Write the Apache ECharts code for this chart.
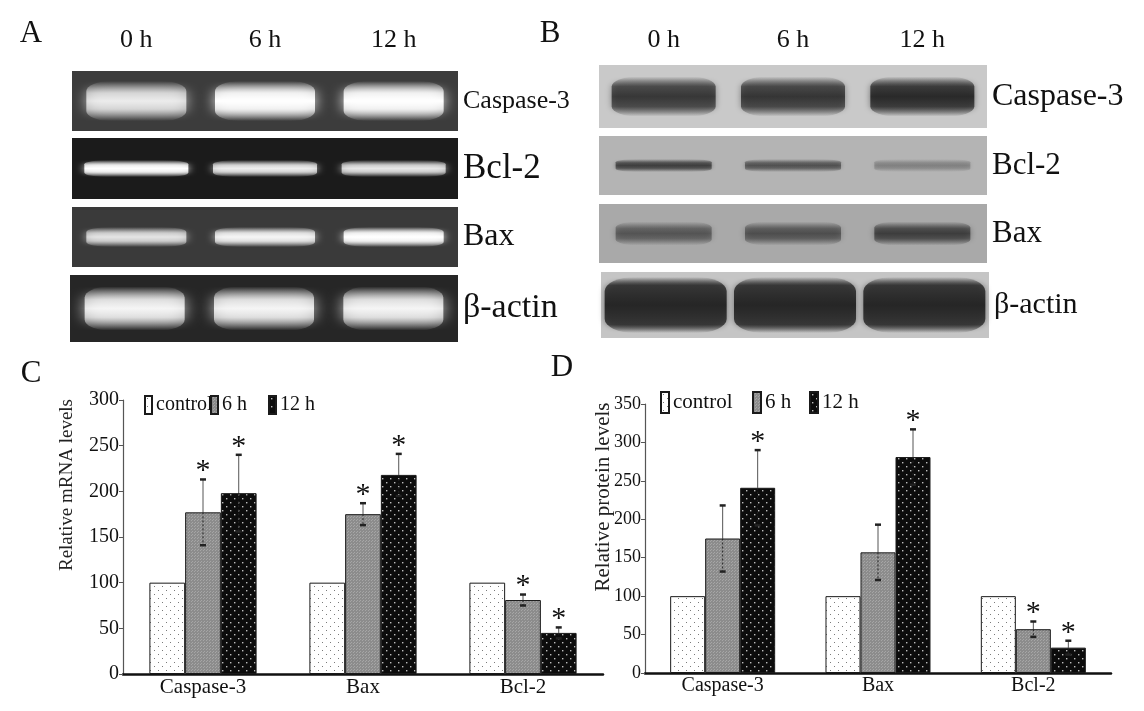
<!DOCTYPE html>
<html>
<head>
<meta charset="utf-8">
<title>Caspase-3, Bcl-2 and Bax expression</title>
<script src="https://cdn.jsdelivr.net/npm/echarts@6/dist/echarts.min.js"></script>
<style>
  html, body { margin: 0; padding: 0; background: #fff; }
  #main { width: 1144px; height: 711px; }
</style>
</head>
<body>
<div id="main"></div>
<script>
const serif = '"Liberation Serif", "Times New Roman", serif'

// blots: lanes and rows
const lanes = ['0 h', '6 h', '12 h']
const blotRows = ['Caspase-3', 'Bcl-2', 'Bax', 'β-actin']
// band strength (0..1)
const gelCaspase3 = [0.75, 1, 1]
const gelBcl2 = [1, 0.8, 0.75]
const gelBax = [0.7, 0.85, 1]
const gelActin = [0.85, 0.85, 0.85]
const wbCaspase3 = [0.8, 0.82, 0.95]
const wbBcl2 = [0.7, 0.55, 0.25]
const wbBax = [0.5, 0.55, 0.7]
const wbActin = [1, 1, 1]

// bar charts
const genes = ['Caspase-3', 'Bax', 'Bcl-2']
const groups = ['control', '6 h', '12 h']
const mrnaControl = [100, 100, 100]
const mrna6h = [177, 175, 81]
const mrna12h = [198, 218, 45]
const mrnaErr6h = [36, 12, 6]
const mrnaErr12h = [42, 23, 6]
const mrnaSig6h = [1, 1, 1]
const mrnaSig12h = [1, 1, 1]
const proteinControl = [100, 100, 100]
const protein6h = [175, 157, 57]
const protein12h = [241, 281, 33]
const proteinErr6h = [43, 36, 10]
const proteinErr12h = [49, 36, 9]
const proteinSig6h = [0, 0, 1]
const proteinSig12h = [1, 1, 1]
const mrnaMax = 300
const proteinMax = 350
const tickStep = 50

// fill patterns for the bars
function makePattern(size, bg, dot, dots, r) {
  const c = document.createElement('canvas')
  c.width = size
  c.height = size
  const g = c.getContext('2d')
  g.fillStyle = bg
  g.fillRect(0, 0, size, size)
  g.fillStyle = dot
  dots.forEach(p => g.fillRect(p[0], p[1], r, r))
  return { image: c, repeat: 'repeat' }
}
const patControl = makePattern(8, '#ffffff', '#7a7a7a', [[2, 2], [6, 6]], 1)
const pat6h = makePattern(3, '#8c8c8c', '#a6a6a6', [[0, 0], [2, 1]], 1)
const pat12h = makePattern(8, '#0c0c0c', '#bdbdbd', [[2, 2], [6, 6]], 1.4)
const patterns = [patControl, pat6h, pat12h]

// soft band: fades out at top and bottom
function bandFill(rgb, core) {
  return {
    type: 'linear', x: 0, y: 0, x2: 0, y2: 1,
    colorStops: [
      { offset: 0, color: 'rgba(' + rgb + ',0)' },
      { offset: 0.5 - core, color: 'rgba(' + rgb + ',0.8)' },
      { offset: 0.5, color: 'rgba(' + rgb + ',1)' },
      { offset: 0.5 + core, color: 'rgba(' + rgb + ',0.8)' },
      { offset: 1, color: 'rgba(' + rgb + ',0)' }
    ]
  }
}

const option = {
  backgroundColor: '#fff',
  animation: false,
  textStyle: { fontFamily: serif },
  grid: [],
  xAxis: [],
  yAxis: [],
  series: [],
  legend: [],
  graphic: []
}

// --- panels A and B ---
const blotPanels = [
  {
    data: [gelCaspase3, gelBcl2, gelBax, gelActin],
    band: '255,255,255', glow: 'rgba(255,255,255,0.8)', labelMargin: 18,
    strips: [
      { left: 72, top: 71, width: 386, height: 60, bg: '#3c3c3c', size: [100, 40], core: 0.2, blur: 14, font: 26 },
      { left: 72, top: 138, width: 386, height: 61, bg: '#1b1b1b', size: [104, 17], core: 0.2, blur: 8, font: 35 },
      { left: 72, top: 207, width: 386, height: 60, bg: '#3a3a3a', size: [100, 20], core: 0.2, blur: 10, font: 32 },
      { left: 70, top: 275, width: 388, height: 67, bg: '#262626', size: [100, 44], core: 0.2, blur: 16, font: 34 }
    ]
  },
  {
    data: [wbCaspase3, wbBcl2, wbBax, wbActin],
    band: '38,38,38', glow: 'rgba(40,40,40,0.6)', labelMargin: 12,
    strips: [
      { left: 599, top: 65, width: 388, height: 63, bg: '#c9c9c9', size: [104, 40], core: 0.25, blur: 6, font: 32 },
      { left: 599, top: 136, width: 388, height: 59, bg: '#b4b4b4', size: [96, 13], core: 0.2, blur: 4, font: 31 },
      { left: 599, top: 204, width: 388, height: 59, bg: '#a9a9a9', size: [96, 24], core: 0.2, blur: 6, font: 31 },
      { left: 601, top: 272, width: 388, height: 66, bg: '#c5c5c5', size: [122, 56], core: 0.35, blur: 6, font: 30 }
    ]
  }
]

blotPanels.forEach(panel => {
  panel.strips.forEach((s, r) => {
    const k = option.grid.length
    option.grid.push({
      left: s.left, top: s.top, width: s.width, height: s.height,
      show: true, backgroundColor: s.bg, borderWidth: 0, outerBoundsMode: 'none'
    })
    option.xAxis.push({
      type: 'category', gridIndex: k, data: lanes, position: 'top',
      axisLine: { show: false }, axisTick: { show: false }, splitLine: { show: false },
      axisLabel: { show: r === 0, color: '#111', fontSize: 26, margin: panel.labelMargin, fontFamily: serif }
    })
    option.yAxis.push({
      type: 'category', gridIndex: k, data: [blotRows[r]], position: 'right',
      axisLine: { show: false }, axisTick: { show: false }, splitLine: { show: false },
      axisLabel: { color: '#111', fontSize: s.font, margin: 5, fontFamily: serif }
    })
    option.series.push({
      type: 'scatter', xAxisIndex: k, yAxisIndex: k, silent: true, clip: true,
      symbol: 'roundRect', symbolSize: s.size,
      itemStyle: { color: bandFill(panel.band, s.core), shadowBlur: s.blur, shadowColor: panel.glow },
      data: panel.data[r].map((v, i) => ({ value: [i, 0], itemStyle: { opacity: v } }))
    })
  })
})

// --- panels C and D ---
function errorBars(slot, gapRatio) {
  return function (params, api) {
    const idx = api.value(0)
    const val = api.value(1)
    const err = api.value(2)
    const sig = api.value(3)
    const band = api.size([1, 0])[0]
    const barW = band * (1 - gapRatio) / 3
    const base = api.coord([idx, val])
    const x = base[0] + (slot - 1) * barW
    const y = base[1]
    const yTop = api.coord([idx, val + err])[1]
    const yLow = api.coord([idx, val - err])[1]
    const children = [
      { type: 'line', shape: { x1: x, y1: y, x2: x, y2: yTop }, style: { stroke: '#555', lineWidth: 1 } },
      { type: 'line', shape: { x1: x - 3, y1: yTop, x2: x + 3, y2: yTop }, style: { stroke: '#222', lineWidth: 2.5 } },
      { type: 'line', shape: { x1: x, y1: y, x2: x, y2: yLow }, style: { stroke: '#222', lineWidth: 1, lineDash: [2, 2] } },
      { type: 'line', shape: { x1: x - 3, y1: yLow, x2: x + 3, y2: yLow }, style: { stroke: '#222', lineWidth: 2.5 } }
    ]
    if (sig) {
      children.push({
        type: 'text',
        style: { text: '*', x: x, y: yTop - 8, align: 'center', verticalAlign: 'middle', fontSize: 30, fontFamily: serif, fill: '#111' }
      })
    }
    return { type: 'group', children }
  }
}

const barCharts = [
  {
    grid: { left: 123, top: 400, width: 480, height: 274 },
    max: mrnaMax, gap: 0.33, tickFont: 20, catFont: 21, legendFont: 20,
    values: [mrnaControl, mrna6h, mrna12h],
    errs: [null, mrnaErr6h, mrnaErr12h],
    sigs: [null, mrnaSig6h, mrnaSig12h],
    legend: [{ left: 144, top: 395 }, { left: 210, top: 395 }, { left: 268, top: 395 }],
    legendIcon: [7, 18],
    name: 'Relative mRNA levels', nameX: 67, nameY: 485, nameFont: 19
  },
  {
    grid: { left: 645, top: 404, width: 466, height: 269 },
    max: proteinMax, gap: 0.324, tickFont: 18, catFont: 20, legendFont: 21,
    values: [proteinControl, protein6h, protein12h],
    errs: [null, proteinErr6h, proteinErr12h],
    sigs: [null, proteinSig6h, proteinSig12h],
    legend: [{ left: 660, top: 391 }, { left: 752, top: 391 }, { left: 809, top: 391 }],
    legendIcon: [8, 21],
    name: 'Relative protein levels', nameX: 603, nameY: 497, nameFont: 21
  }
]

barCharts.forEach(ch => {
  const k = option.grid.length
  option.grid.push(Object.assign({ outerBoundsMode: 'none' }, ch.grid))
  option.xAxis.push({
    type: 'category', gridIndex: k, data: genes,
    axisLine: { lineStyle: { color: '#111', width: 2.5 } },
    axisTick: { inside: true, length: 8, lineStyle: { color: '#555', width: 1 } },
    axisLabel: { color: '#111', fontSize: ch.catFont, margin: 3, fontFamily: serif },
    splitLine: { show: false }
  })
  option.yAxis.push({
    type: 'value', gridIndex: k, min: 0, max: ch.max, interval: tickStep,
    axisLine: { show: true, lineStyle: { color: '#555', width: 1.2 } },
    axisTick: { show: true, length: 4, lineStyle: { color: '#555' } },
    axisLabel: { color: '#111', fontSize: ch.tickFont, margin: 4, fontFamily: serif },
    splitLine: { show: false }
  })
  groups.forEach((g, s) => {
    option.series.push({
      type: 'bar', name: g, xAxisIndex: k, yAxisIndex: k,
      barGap: '0%', barCategoryGap: (ch.gap * 100) + '%',
      itemStyle: { color: patterns[s], borderColor: '#1a1a1a', borderWidth: 1 },
      emphasis: { disabled: true },
      data: ch.values[s]
    })
    if (ch.errs[s]) {
      option.series.push({
        type: 'custom', name: g + ' error', xAxisIndex: k, yAxisIndex: k, silent: true, z: 5,
        renderItem: errorBars(s, ch.gap),
        encode: { x: 0, y: 1 },
        data: ch.values[s].map((v, i) => [i, v, ch.errs[s][i], ch.sigs[s][i]])
      })
    }
    option.legend.push(Object.assign({
      data: [g], icon: 'rect', itemWidth: ch.legendIcon[0], itemHeight: ch.legendIcon[1],
      selectedMode: false, padding: 0, itemGap: 0,
      textStyle: { color: '#111', fontSize: ch.legendFont, fontFamily: serif, padding: [0, 0, 0, -1] }
    }, ch.legend[s]))
  })
  option.graphic.push({
    type: 'text', x: ch.nameX, y: ch.nameY, rotation: Math.PI / 2,
    style: { text: ch.name, align: 'center', verticalAlign: 'middle', fontSize: ch.nameFont, fontFamily: serif, fill: '#222' }
  })
})

// panel letters
const letters = [['A', 31, 34], ['B', 550, 34], ['C', 31, 374], ['D', 562, 368]]
letters.forEach(l => {
  option.graphic.push({
    type: 'text', x: l[1], y: l[2],
    style: { text: l[0], align: 'center', verticalAlign: 'middle', fontSize: 31, fontFamily: serif, fill: '#111' }
  })
})

const chart = echarts.init(document.getElementById('main'))
chart.setOption(option)
</script>
</body>
</html>
